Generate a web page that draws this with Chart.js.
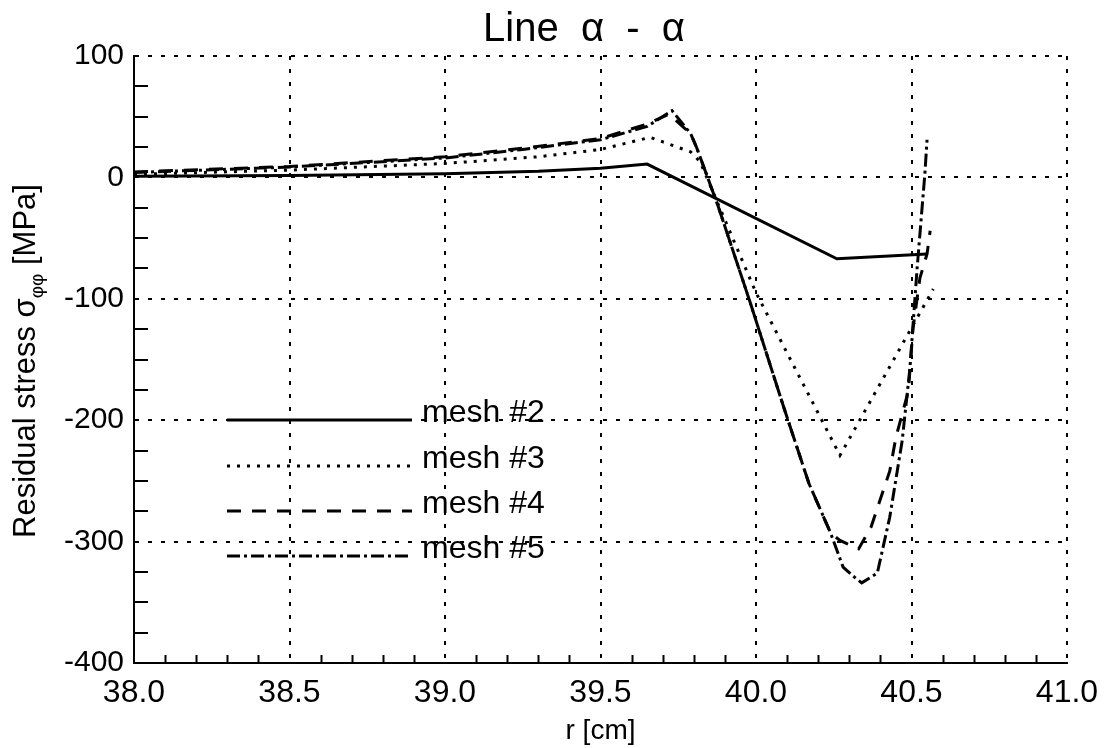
<!DOCTYPE html>
<html>
<head>
<meta charset="utf-8">
<title>Line α - α</title>
<script src="https://cdn.jsdelivr.net/npm/chart.js@4.4.1/dist/chart.umd.min.js"></script>
<style>
  html, body { margin: 0; padding: 0; background: #fff; }
</style>
</head>
<body>
<canvas id="myChart" width="1106" height="748"></canvas>
<script>
// residual stress along line alpha-alpha, one pair of arrays per mesh
const mesh2R = [38.0, 38.5, 39.0, 39.3, 39.5, 39.65, 40.26, 40.55];
const mesh2S = [1, 1.5, 3, 5, 7.5, 11, -67, -63];

const mesh3R = [38.0, 38.5, 39.0, 39.3, 39.5, 39.66, 39.79, 39.82, 40.0, 40.27, 40.57];
const mesh3S = [2.5, 6, 11.5, 17, 23, 33, 21, 13, -95, -229, -92];

const mesh4R = [38.0, 38.5, 39.0, 39.25, 39.5, 39.65, 39.72, 39.79, 39.81, 39.88, 39.98, 40.09, 40.17, 40.24,
                40.27, 40.33, 40.37, 40.43, 40.45, 40.49, 40.505, 40.527, 40.55, 40.56];
const mesh4S = [4.5, 9, 17, 24, 32, 44, 52, 36, 24, -25, -102, -190, -252, -293,
                -299, -306, -288, -242, -214, -176, -124, -83, -63, -44];

const mesh5R = [38.0, 38.5, 39.0, 39.25, 39.5, 39.65, 39.73, 39.79, 39.81, 39.88, 39.98, 40.09, 40.17, 40.24,
                40.28, 40.32, 40.34, 40.39, 40.43, 40.47, 40.495, 40.518, 40.543, 40.55];
const mesh5S = [4, 8.5, 16, 23, 31, 42, 55, 36, 24, -25, -102, -190, -252, -293,
                -321, -330, -334, -326, -280, -217, -157, -75, 3, 31];

const meshNames = ['mesh #2', 'mesh #3', 'mesh #4', 'mesh #5'];
const xTicks = [38.0, 38.5, 39.0, 39.5, 40.0, 40.5, 41.0];
const yTicks = [100, 0, -100, -200, -300, -400];

const FONT = '"Liberation Sans", Arial, Helvetica, sans-serif';

const toPoints = (rs, ss) => rs.map((r, i) => ({ x: r, y: ss[i] }));

const lineSet = (label, rs, ss, dash, width) => ({
    label: label,
    data: toPoints(rs, ss),
    borderColor: '#000',
    borderWidth: width,
    borderDash: dash,
    pointRadius: 0,
    tension: 0,
    fill: false
});

// short inward ticks between the gridlines
const minorTicks = {
    id: 'minorTicks',
    afterDraw(chart) {
        const { ctx, chartArea, scales } = chart;
        ctx.save();
        ctx.strokeStyle = '#000';
        ctx.lineWidth = 2;
        ctx.beginPath();
        for (let k = 381; k < 410; k++) {
            if (k % 5 === 0) continue;
            const px = Math.round(scales.x.getPixelForValue(k / 10)) + 0.5;
            ctx.moveTo(px, chartArea.bottom);
            ctx.lineTo(px, chartArea.bottom - 8);
        }
        for (let v = -375; v < 100; v += 25) {
            if (v % 100 === 0) continue;
            const py = Math.round(scales.y.getPixelForValue(v));
            ctx.moveTo(chartArea.left, py);
            ctx.lineTo(chartArea.left + 14, py);
        }
        ctx.stroke();
        ctx.restore();
    }
};

// heading and y axis title (with the sigma_phiphi subscript)
const titles = {
    id: 'titles',
    afterDraw(chart) {
        const ctx = chart.ctx;
        ctx.save();
        ctx.fillStyle = '#000';
        ctx.font = '40px ' + FONT;
        ctx.textAlign = 'center';
        ctx.textBaseline = 'middle';
        ctx.fillText('Line  \u03b1  -  \u03b1', 584, 30);

        const big = '31px ' + FONT;
        const small = '19px ' + FONT;
        const parts = [
            { t: 'Residual stress \u03c3', f: big, dy: 0 },
            { t: '\u03c6\u03c6', f: small, dy: 8 },
            { t: ' [MPa]', f: big, dy: 0 }
        ];
        let total = 0;
        parts.forEach(p => { ctx.font = p.f; p.w = ctx.measureText(p.t).width; total += p.w; });
        ctx.translate(35, 361);
        ctx.rotate(-Math.PI / 2);
        ctx.textAlign = 'left';
        ctx.textBaseline = 'alphabetic';
        let x = -total / 2;
        parts.forEach(p => {
            ctx.font = p.f;
            ctx.fillText(p.t, x, p.dy);
            x += p.w;
        });
        ctx.restore();
    }
};

// legend inside the plot: sample line then label
const innerLegend = {
    id: 'innerLegend',
    afterDraw(chart) {
        const ctx = chart.ctx;
        const rows = [420, 466, 511, 556];
        ctx.save();
        chart.data.datasets.forEach((ds, i) => {
            ctx.strokeStyle = '#000';
            ctx.lineWidth = ds.borderWidth;
            ctx.setLineDash(ds.borderDash);
            ctx.beginPath();
            ctx.moveTo(227, rows[i]);
            ctx.lineTo(412, rows[i]);
            ctx.stroke();
            ctx.setLineDash([]);
            ctx.font = '32px ' + FONT;
            ctx.fillStyle = '#000';
            ctx.textBaseline = 'middle';
            ctx.fillText(ds.label, 422, rows[i] - 7);
        });
        ctx.restore();
    }
};

const ctx = document.getElementById('myChart').getContext('2d');
const myChart = new Chart(ctx, {
    type: 'line',
    data: {
        datasets: [
            lineSet(meshNames[0], mesh2R, mesh2S, [], 3),
            lineSet(meshNames[1], mesh3R, mesh3S, [3, 7], 3),
            lineSet(meshNames[2], mesh4R, mesh4S, [14, 11], 3),
            lineSet(meshNames[3], mesh5R, mesh5S, [13, 4, 3, 4], 3)
        ]
    },
    options: {
        responsive: false,
        animation: false,
        devicePixelRatio: 1,
        layout: { padding: { left: 0, right: 39, top: 56, bottom: 0 } },
        plugins: {
            legend: { display: false },
            tooltip: { enabled: false },
            title: { display: false }
        },
        scales: {
            x: {
                type: 'linear',
                min: 38,
                max: 41,
                afterBuildTicks: (s) => { s.ticks = xTicks.map(v => ({ value: v })); },
                afterFit: (s) => { s.height = 85; s.paddingLeft = 0; s.paddingRight = 0; },
                ticks: {
                    color: '#000',
                    font: { family: FONT, size: 32 },
                    padding: 11,
                    maxRotation: 0,
                    callback: (v) => v.toFixed(1)
                },
                grid: { color: '#000', lineWidth: 2, drawTicks: false },
                border: { display: true, color: '#000', width: 2, dash: [4, 9] },
                title: {
                    display: true,
                    text: 'r [cm]',
                    color: '#000',
                    font: { family: FONT, size: 28 },
                    padding: { top: 0, bottom: 0 }
                }
            },
            y: {
                type: 'linear',
                min: -400,
                max: 100,
                afterBuildTicks: (s) => { s.ticks = yTicks.map(v => ({ value: v })); },
                afterFit: (s) => { s.width = 134; },
                ticks: {
                    color: '#000',
                    font: { family: FONT, size: 30 },
                    padding: 10
                },
                grid: { color: '#000', lineWidth: 2, drawTicks: false },
                border: { display: true, color: '#000', width: 2, dash: [4, 9] }
            }
        }
    },
    plugins: [minorTicks, titles, innerLegend]
});
</script>
</body>
</html>
